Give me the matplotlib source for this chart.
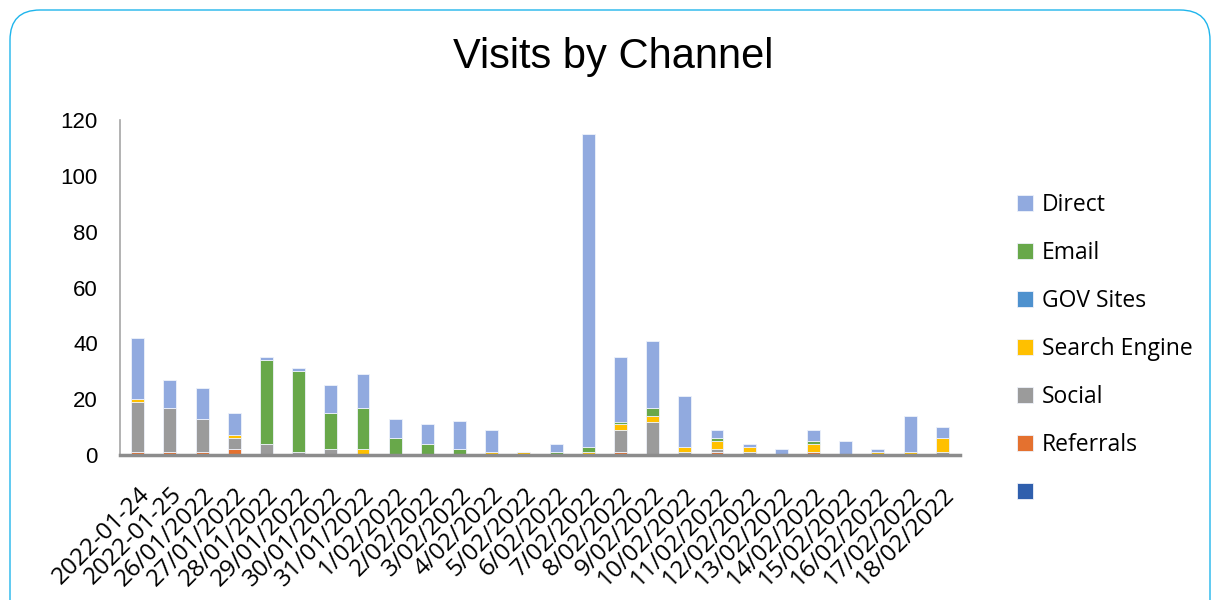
import numpy as np
import matplotlib
matplotlib.use('Agg')
import matplotlib.pyplot as plt
from matplotlib.patches import FancyBboxPatch

# data
dates = ['2022-01-24', '2022-01-25', '26/01/2022', '27/01/2022', '28/01/2022',
         '29/01/2022', '30/01/2022', '31/01/2022', '1/02/2022', '2/02/2022',
         '3/02/2022', '4/02/2022', '5/02/2022', '6/02/2022', '7/02/2022',
         '8/02/2022', '9/02/2022', '10/02/2022', '11/02/2022', '12/02/2022',
         '13/02/2022', '14/02/2022', '15/02/2022', '16/02/2022', '17/02/2022',
         '18/02/2022']
blank = [0] * 26
referrals = [1, 1, 1, 2, 0, 0, 0, 0, 0, 0, 0, 0, 0, 0, 0, 1, 0, 0, 1, 0, 0, 1, 0, 0, 0, 0]
social = [18, 16, 12, 4, 4, 1, 2, 0, 0, 0, 0, 0, 0, 0, 0, 8, 12, 1, 1, 1, 0, 0, 0, 0, 0, 1]
search_engine = [1, 0, 0, 1, 0, 0, 0, 2, 0, 0, 0, 1, 1, 0, 1, 2, 2, 2, 3, 2, 0, 3, 0, 1, 1, 5]
gov_sites = [0] * 26
email = [0, 0, 0, 0, 30, 29, 13, 15, 6, 4, 2, 0, 0, 1, 2, 1, 3, 0, 1, 0, 0, 1, 0, 0, 0, 0]
direct = [22, 10, 11, 8, 1, 1, 10, 12, 7, 7, 10, 8, 0, 3, 112, 23, 24, 18, 3, 1, 2, 4, 5, 1, 13, 4]

# bottom -> top
series = [(' ', blank, '#2F5FAD'),
          ('Referrals', referrals, '#E4712F'),
          ('Social', social, '#9B9B9B'),
          ('Search Engine', search_engine, '#FFC000'),
          ('GOV Sites', gov_sites, '#4E91CE'),
          ('Email', email, '#68A84A'),
          ('Direct', direct, '#91AADF')]

label_font = ['Open Sans', 'DejaVu Sans']
narrow_font = ['Liberation Sans Narrow', 'Liberation Sans', 'DejaVu Sans']

fig = plt.figure(figsize=(12.15, 6), dpi=100)
ax = fig.add_axes([120 / 1215, 145 / 600, 840 / 1215, 335 / 600])

x = np.arange(len(dates))
bottom = np.zeros(len(dates))
handles, names = [], []
for name, vals, col in series:
    vals = np.array(vals, dtype=float)
    b = ax.bar(x, vals, 0.4, bottom=bottom, color=col,
               edgecolor='#EEF2FA', linewidth=0.6)
    bottom += vals
    handles.append(b)
    names.append(name)

ax.set_xlim(-0.55, len(dates) - 0.45)
ax.set_ylim(0, 120)
ax.set_yticks(np.arange(0, 121, 20))
ax.tick_params(axis='y', length=0, pad=16, labelsize=16)
ax.tick_params(axis='x', length=0, pad=20)
for t in ax.get_yticklabels():
    t.set_family(narrow_font)

ax.set_xticks(x)
ax.set_xticklabels(dates, rotation=45, ha='right', rotation_mode='anchor',
                   family=label_font, fontsize=17.5)

for s in ['top', 'right']:
    ax.spines[s].set_visible(False)
ax.spines['left'].set_color('#A6A6A6')
ax.spines['left'].set_linewidth(1.2)
ax.spines['bottom'].set_color('#8C8C8C')
ax.spines['bottom'].set_linewidth(2.5)

fig.text(613 / 1215, 1 - 57 / 600, 'Visits by Channel', ha='center', va='center',
         fontsize=30, family=narrow_font)

leg = fig.legend(handles[::-1], names[::-1],
                 loc='upper left', bbox_to_anchor=(996 / 1215, 1 - 172 / 600),
                 frameon=False, prop={'family': label_font, 'size': 16.5},
                 handlelength=0.7, handleheight=0.7, handletextpad=0.4,
                 labelspacing=1.05)

# rounded chart border
border = FancyBboxPatch((0.1, -0.5), 12.0, 6.4,
                        boxstyle='round,pad=0,rounding_size=0.3',
                        transform=fig.dpi_scale_trans, fill=False,
                        edgecolor='#1FB5EC', linewidth=1.0)
fig.patches.append(border)

plt.savefig('out.png', dpi=100)
plt.close()
